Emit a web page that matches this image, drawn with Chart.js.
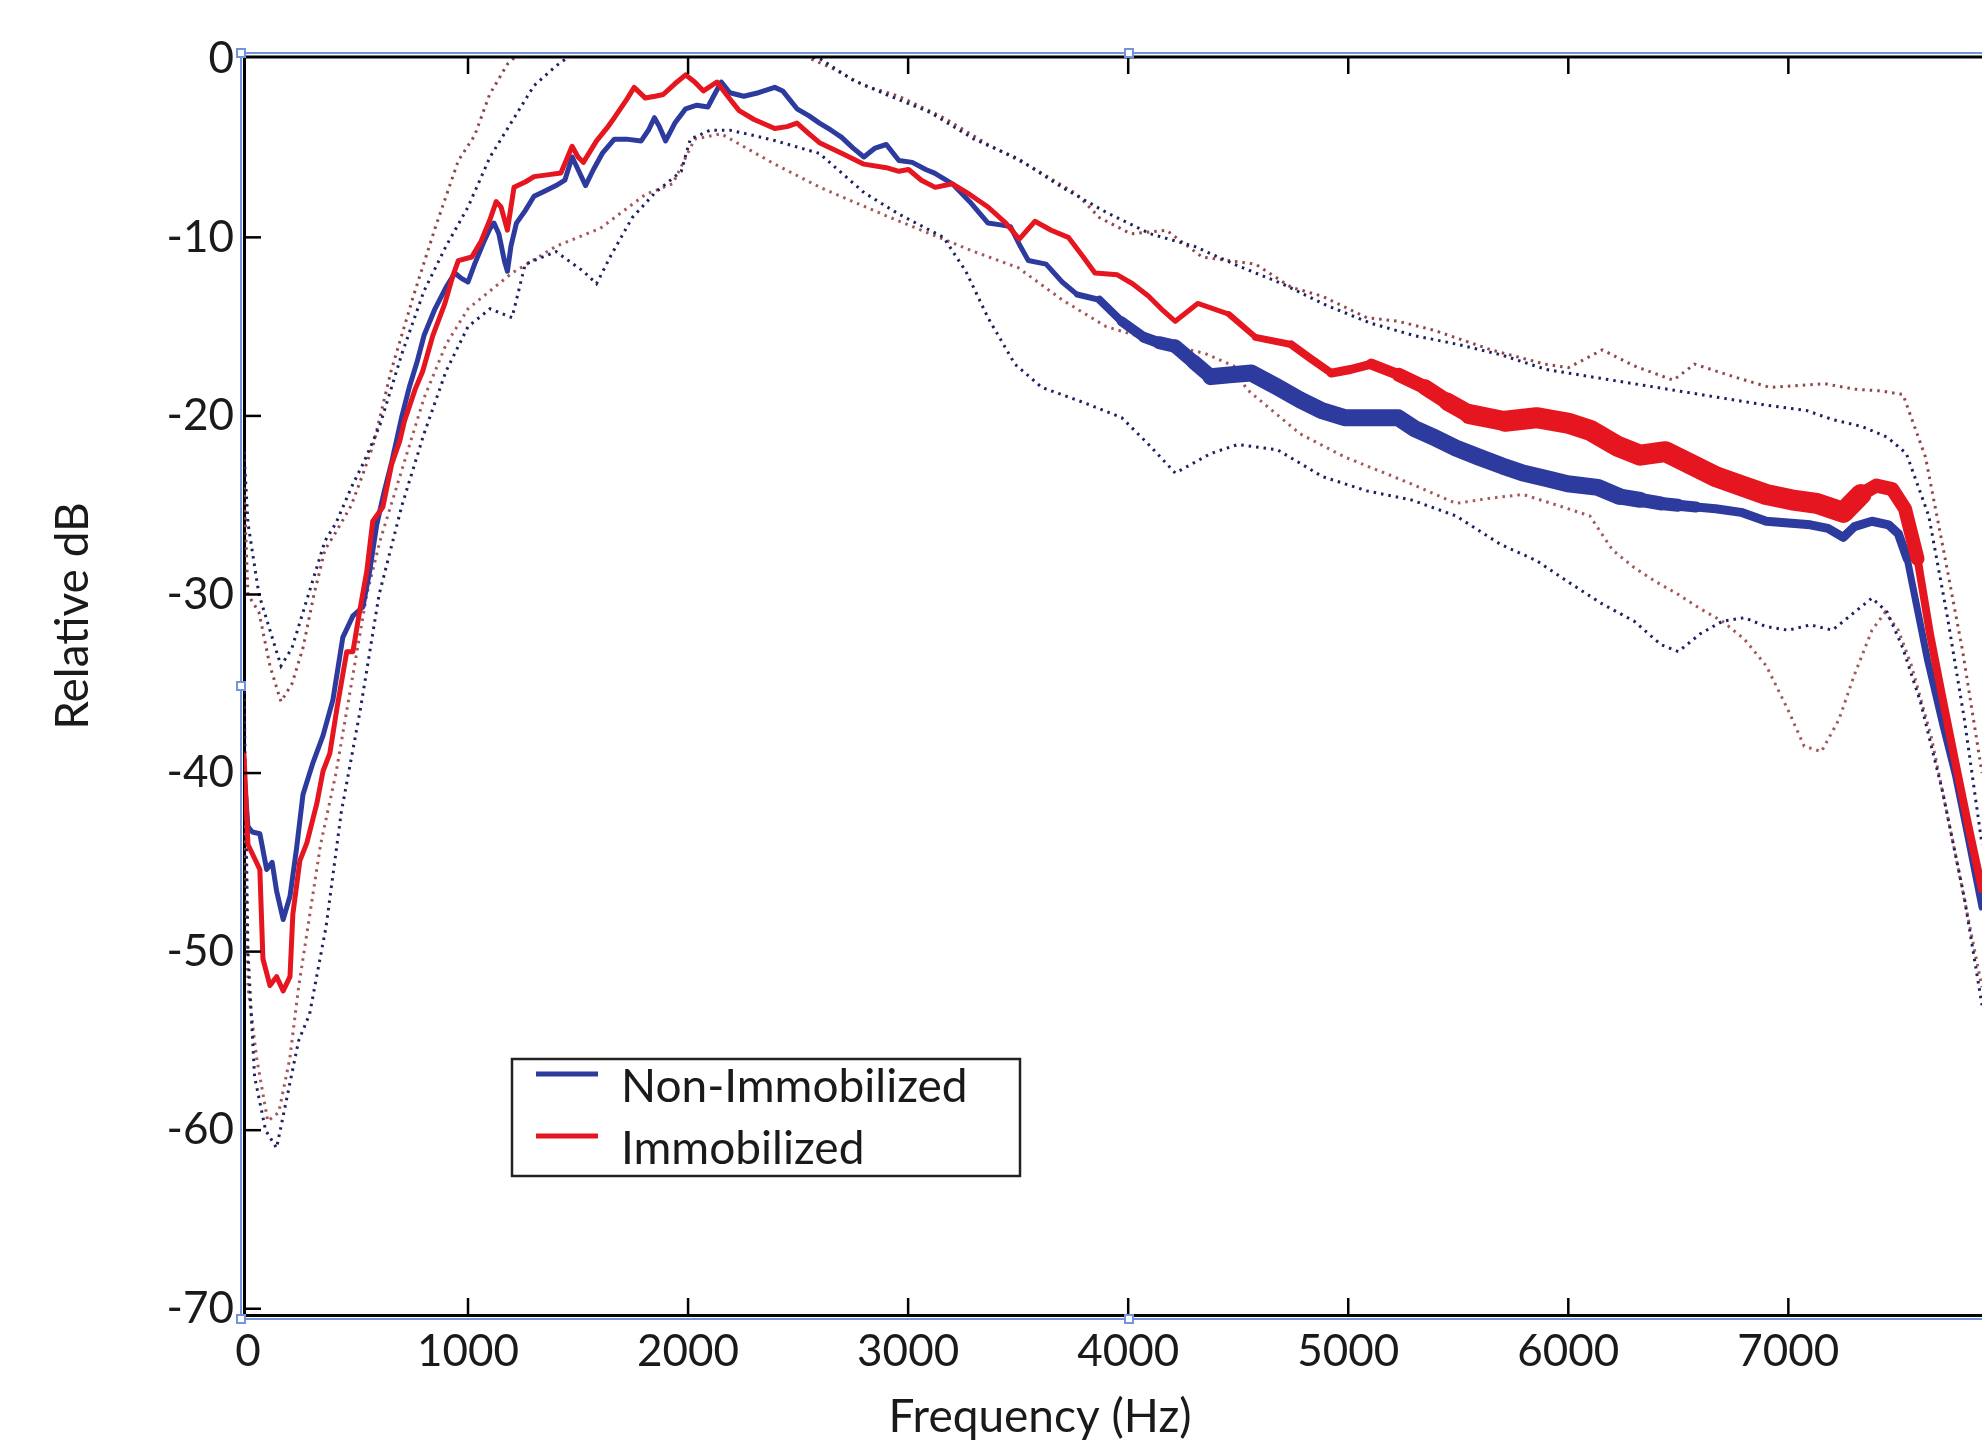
<!DOCTYPE html>
<html>
<head>
<meta charset="utf-8">
<title>Relative dB vs Frequency</title>
<script src="https://cdn.jsdelivr.net/npm/chart.js@4.4.1/dist/chart.umd.min.js"></script>
<style>
  html, body { margin: 0; padding: 0; background: #fff; overflow: hidden; }
  #chart { display: block; }
</style>
</head>
<body>
<canvas id="chart" width="1982" height="1440"></canvas>
<script>
const xTicks = [0, 1000, 2000, 3000, 4000, 5000, 6000, 7000];
const yTicks = [0, -10, -20, -30, -40, -50, -60, -70];

// Non-Immobilized mean
const blueFreq = [-18, 0, 20, 54, 85, 110, 130, 160, 191, 221, 250, 296, 341, 386, 431, 477, 522, 553, 585, 620, 653, 700, 733, 768, 800, 850, 900, 940, 970, 1000, 1030, 1070, 1100, 1118, 1140, 1165, 1179, 1195, 1220, 1260, 1300, 1350, 1400, 1440, 1473, 1500, 1534, 1570, 1610, 1665, 1720, 1787, 1820, 1847, 1870, 1898, 1940, 1989, 2040, 2090, 2120, 2151, 2190, 2253, 2320, 2394, 2430, 2495, 2550, 2597, 2650, 2698, 2750, 2799, 2850, 2901, 2958, 3019, 3080, 3120, 3201, 3280, 3363, 3420, 3465, 3510, 3546, 3627, 3700, 3768, 3870, 3970, 4072, 4140, 4214, 4300, 4376, 4460, 4559, 4680, 4781, 4880, 4984, 5100, 5227, 5300, 5389, 5490, 5592, 5700, 5794, 5900, 5997, 6134, 6230, 6327, 6420, 6499, 6580, 6670, 6785, 6900, 7000, 7100, 7180, 7250, 7300, 7380, 7456, 7500, 7540, 7576, 7633, 7702, 7759, 7817, 7880];
const blueDb = [-40, -43, -43.3, -43.4, -45.4, -45, -46.6, -48.2, -46.9, -44.2, -41.2, -39.4, -37.9, -35.9, -32.4, -31.2, -30.7, -28.7, -26.1, -24.2, -22.6, -20.0, -18.4, -17.0, -15.5, -14.0, -12.8, -12.0, -12.3, -12.5, -11.5, -10.3, -9.5, -9.2, -9.8, -11.3, -11.9, -10.5, -9.2, -8.5, -7.7, -7.4, -7.1, -6.8, -5.5, -6.2, -7.1, -6.2, -5.3, -4.5, -4.5, -4.6, -4.0, -3.3, -3.8, -4.6, -3.6, -2.8, -2.6, -2.7, -2.0, -1.3, -1.9, -2.1, -1.9, -1.6, -1.8, -2.8, -3.2, -3.6, -4.0, -4.4, -5.0, -5.5, -5.0, -4.8, -5.7, -5.8, -6.2, -6.4, -7.0, -8.0, -9.2, -9.3, -9.4, -10.5, -11.3, -11.5, -12.5, -13.2, -13.5, -14.7, -15.6, -15.9, -16.1, -17.0, -17.8, -17.7, -17.6, -18.4, -19.1, -19.7, -20.1, -20.1, -20.1, -20.7, -21.2, -21.8, -22.3, -22.8, -23.2, -23.5, -23.8, -24.0, -24.5, -24.7, -24.9, -25.0, -25.1, -25.2, -25.4, -25.9, -26.0, -26.1, -26.3, -26.8, -26.2, -25.9, -26.1, -26.6, -28.0, -30.2, -33.7, -37.3, -40.1, -43.6, -47.5];

// Immobilized mean
const redFreq = [-18, 0, 54, 68, 100, 130, 160, 191, 204, 236, 268, 313, 341, 372, 404, 449, 477, 508, 540, 567, 613, 653, 690, 711, 760, 794, 840, 895, 930, 956, 1017, 1060, 1100, 1128, 1150, 1179, 1209, 1260, 1300, 1360, 1422, 1473, 1500, 1524, 1584, 1630, 1665, 1720, 1755, 1806, 1850, 1887, 1940, 1989, 2030, 2070, 2131, 2180, 2232, 2300, 2394, 2450, 2495, 2550, 2597, 2700, 2799, 2901, 2958, 3002, 3060, 3123, 3201, 3280, 3363, 3444, 3505, 3576, 3650, 3728, 3790, 3849, 3951, 4020, 4093, 4150, 4214, 4316, 4457, 4579, 4741, 4830, 4923, 5010, 5105, 5230, 5349, 5450, 5551, 5713, 5855, 5997, 6098, 6224, 6327, 6441, 6556, 6670, 6785, 6900, 7014, 7129, 7250, 7330, 7400, 7472, 7530, 7587, 7645, 7702, 7759, 7817, 7880];
const redDb = [-39, -44, -45.4, -50.4, -51.9, -51.4, -52.2, -51.4, -47.9, -44.9, -43.9, -41.7, -39.9, -38.9, -36.4, -33.2, -33.2, -30.9, -28.7, -25.9, -25.1, -22.7, -21.4, -20.3, -18.5, -17.5, -15.5, -13.7, -12.2, -11.3, -11.1, -10.2, -9.0, -8.0, -8.3, -9.6, -7.2, -6.9, -6.6, -6.5, -6.4, -4.9, -5.5, -5.8, -4.6, -3.9, -3.3, -2.3, -1.6, -2.2, -2.1, -2.0, -1.4, -0.9, -1.3, -1.8, -1.3, -2.1, -2.9, -3.4, -3.9, -3.8, -3.6, -4.2, -4.7, -5.3, -5.9, -6.1, -6.3, -6.2, -6.8, -7.2, -7.0, -7.6, -8.3, -9.2, -10.1, -9.1, -9.6, -10.0, -11.0, -12.0, -12.1, -12.6, -13.3, -14.0, -14.7, -13.7, -14.3, -15.6, -16.0, -16.8, -17.6, -17.4, -17.1, -17.7, -18.4, -19.2, -19.9, -20.3, -20.1, -20.4, -20.8, -21.7, -22.2, -22.0, -22.7, -23.4, -23.9, -24.4, -24.7, -24.9, -25.4, -24.4, -23.9, -24.1, -25.2, -28.0, -32.3, -35.9, -39.4, -42.9, -46.5];

// dotted bounds, Non-Immobilized
const blueUpFreq = [-18, 0, 50, 100, 150, 200, 250, 300, 350, 400, 470, 530, 600, 700, 800, 900, 1000, 1100, 1200, 1300, 1400, 1500, 2300, 2600, 2750, 2900, 3100, 3300, 3500, 3700, 3900, 4100, 4300, 4500, 4700, 4900, 5100, 5300, 5500, 5700, 5900, 6100, 6300, 6500, 6700, 6900, 7083, 7200, 7337, 7450, 7536, 7638, 7722, 7800, 7880];
const blueUpDb = [-22, -26, -30, -32, -34, -33, -31, -29, -27, -26, -24, -22.5, -20.5, -16.5, -13, -10.5, -8.3, -5.5, -3.5, -1.5, -0.4, 0.5, 0.8, 0, -1.2, -2.0, -3.0, -4.5, -5.6, -7.2, -8.6, -9.8, -10.5, -11.6, -12.6, -13.8, -14.8, -15.5, -16, -16.6, -17.4, -17.8, -18.2, -18.6, -19.0, -19.4, -19.7, -20.2, -20.6, -21.2, -22.1, -25.6, -31.2, -37, -44];
const blueLowFreq = [-18, 0, 30, 80, 130, 180, 230, 280, 355, 424, 510, 596, 700, 800, 900, 1000, 1100, 1200, 1260, 1400, 1524, 1584, 1650, 1746, 1850, 1969, 2010, 2100, 2191, 2300, 2400, 2597, 2800, 2958, 3161, 3262, 3363, 3485, 3607, 3809, 3971, 4093, 4214, 4376, 4498, 4679, 4883, 5085, 5286, 5490, 5693, 5855, 6000, 6150, 6300, 6420, 6500, 6600, 6700, 6800, 6900, 7000, 7100, 7200, 7300, 7380, 7450, 7520, 7600, 7700, 7800, 7880];
const blueLowDb = [-35, -50, -57, -60, -61, -58, -55, -53.5, -48.6, -42.2, -36.5, -30, -25, -21, -17.5, -15, -14, -14.5, -11.5, -10.8, -11.9, -12.6, -11, -8.9, -7.5, -6.3, -4.5, -4, -4, -4.3, -4.6, -5.3, -7.5, -8.7, -10, -11.9, -14.5, -17.1, -18.4, -19.3, -20.1, -21.6, -23.2, -22.1, -21.6, -21.9, -23.4, -24.2, -24.7, -25.6, -27.2, -28.1, -29.3, -30.5, -31.5, -32.8, -33.2, -32.2, -31.5, -31.3, -31.8, -32.0, -31.7, -32.0, -31, -30.2, -31, -33, -36, -41, -47, -53];

// dotted bounds, Immobilized
const redUpFreq = [-18, 0, 50, 100, 150, 200, 250, 300, 350, 400, 470, 530, 572, 650, 754, 850, 956, 1030, 1098, 1179, 1250, 1400, 1800, 2200, 2500, 2650, 2800, 2958, 3161, 3363, 3566, 3768, 3870, 4012, 4174, 4336, 4579, 4741, 4883, 5085, 5227, 5389, 5649, 5894, 6000, 6155, 6300, 6477, 6574, 6750, 6915, 7167, 7300, 7420, 7521, 7623, 7705, 7791, 7880];
const redUpDb = [-24, -30, -31, -34, -36, -35, -33, -30, -27.5, -26.5, -25, -23, -21.5, -17.5, -13.2, -9.5, -5.7, -4.3, -2.0, -0.3, 0.5, 1, 1.5, 1, 0.3, -0.5, -1.5, -2.1, -3.3, -4.8, -6.1, -7.6, -8.9, -9.8, -9.6, -11.1, -11.5, -12.8, -13.3, -14.5, -14.7, -15.2, -16.3, -17.1, -17.3, -16.3, -17.2, -18.0, -17.1, -17.8, -18.4, -18.2, -18.5, -18.6, -18.8, -22.3, -27.5, -33.1, -40];
const redLowFreq = [-18, 0, 40, 90, 140, 190, 230, 280, 330, 400, 470, 540, 600, 700, 800, 900, 1000, 1100, 1200, 1400, 1600, 1806, 1930, 2030, 2150, 2394, 2600, 2901, 3100, 3300, 3500, 3700, 3900, 4174, 4350, 4480, 4538, 4781, 4984, 5286, 5490, 5650, 5794, 5950, 6098, 6200, 6300, 6400, 6500, 6600, 6700, 6800, 6900, 7000, 7072, 7150, 7230, 7300, 7380, 7440, 7500, 7560, 7650, 7750, 7880];
const redLowDb = [-40, -52, -56, -59.5, -59, -56, -52, -48, -44, -40, -35, -30, -27, -23, -19, -16, -14, -13, -12, -10.5, -9.5, -7.6, -7, -4.5, -4.2, -5.9, -7.2, -8.8, -9.8, -10.8, -11.7, -13.5, -15, -16, -16.5, -17.2, -18.5, -21, -22.3, -23.8, -24.9, -24.6, -24.4, -25, -25.6, -27.5, -28.5, -29.3, -30, -30.8, -31.5, -32.5, -34, -36.5, -38.5, -38.8, -37, -34.5, -32, -31, -32, -34, -38, -44, -52];

const BLUE = '#2d3a9e';
const RED = '#e5161f';

const pts = (xs, ys) => xs.map((x, i) => ({ x: x, y: ys[i] }));

// the mean curves get heavier where the original traces pile up
function blueWidth(hz) {
  if (hz < 3700) return 5;
  if (hz < 4400) return Math.round(5 + (hz - 3700) / 700 * 12);
  if (hz < 6200) return 17;
  if (hz < 6600) return Math.round(17 - (hz - 6200) / 400 * 8);
  if (hz < 7520) return 9;
  return 7;
}
function redWidth(hz) {
  if (hz < 4300) return 5;
  if (hz < 5000) return Math.round(5 + (hz - 4300) / 700 * 4);
  if (hz < 5600) return Math.round(9 + (hz - 5000) / 600 * 12);
  if (hz < 7320) return 21;
  if (hz < 7540) return 14;
  return 8;
}

function dotted(label, xs, ys, color, order) {
  return {
    label: label,
    data: pts(xs, ys),
    borderColor: color,
    borderWidth: 3,
    borderDash: [2.5, 5],
    order: order,
    inLegend: false
  };
}

const framePlugin = {
  id: 'frame',
  afterDraw(chart) {
    const { ctx, chartArea: a, scales: { x, y } } = chart;
    ctx.save();

    // top axis line and inward ticks
    ctx.strokeStyle = '#000';
    ctx.lineWidth = 3;
    ctx.beginPath();
    ctx.moveTo(a.left, a.top);
    ctx.lineTo(a.right, a.top);
    ctx.stroke();
    ctx.lineWidth = 2.5;
    xTicks.forEach(v => {
      const px = x.getPixelForValue(v);
      if (px - a.left < 12) return;
      ctx.beginPath();
      ctx.moveTo(px, a.bottom);
      ctx.lineTo(px, a.bottom - 17);
      ctx.moveTo(px, a.top);
      ctx.lineTo(px, a.top + 17);
      ctx.stroke();
    });
    yTicks.forEach(v => {
      const py = y.getPixelForValue(v);
      if (py - a.top < 6) return;
      ctx.beginPath();
      ctx.moveTo(a.left, py);
      ctx.lineTo(a.left + 17, py);
      ctx.stroke();
    });

    // selection frame left over from the editor
    ctx.strokeStyle = '#7393da';
    ctx.lineWidth = 2;
    const fl = a.left - 3, ft = a.top - 4, fb = a.bottom + 4;
    ctx.beginPath();
    ctx.moveTo(a.right, ft);
    ctx.lineTo(fl, ft);
    ctx.lineTo(fl, fb);
    ctx.lineTo(a.right, fb);
    ctx.stroke();
    const hx = a.left + 885, hy = (a.top + a.bottom) / 2;
    [[fl, ft], [hx, ft], [fl, hy], [fl, fb], [hx, fb]].forEach(([cx, cy]) => {
      ctx.fillStyle = '#fff';
      ctx.fillRect(cx - 4, cy - 4, 8, 8);
      ctx.strokeRect(cx - 4, cy - 4, 8, 8);
    });

    // legend box
    const lx = a.left + 268, ly = a.top + 1002, lw = 508, lh = 117;
    ctx.fillStyle = '#fff';
    ctx.fillRect(lx, ly, lw, lh);
    ctx.strokeStyle = '#222';
    ctx.lineWidth = 2.5;
    ctx.strokeRect(lx, ly, lw, lh);
    const items = chart.data.datasets.filter(d => d.inLegend);
    ctx.font = '46px Lato, "Open Sans", sans-serif';
    ctx.textBaseline = 'alphabetic';
    ctx.textAlign = 'left';
    items.forEach((d, i) => {
      const rowY = ly + 15 + i * 62;
      ctx.strokeStyle = d.borderColor;
      ctx.lineWidth = 5;
      ctx.beginPath();
      ctx.moveTo(lx + 24, rowY);
      ctx.lineTo(lx + 86, rowY);
      ctx.stroke();
      ctx.fillStyle = '#1a1a1a';
      ctx.fillText(d.label, lx + 109, rowY + 28);
    });

    // axis titles
    ctx.fillStyle = '#1a1a1a';
    ctx.font = '46px Lato, "Open Sans", sans-serif';
    ctx.textAlign = 'center';
    ctx.fillText('Frequency (Hz)', 1040, 1432);
    ctx.translate(88, 616);
    ctx.rotate(-Math.PI / 2);
    ctx.fillText('Relative dB', 0, 0);
    ctx.restore();
  }
};

Chart.defaults.font.family = 'Lato, "Open Sans", sans-serif';
Chart.defaults.color = '#1a1a1a';

new Chart(document.getElementById('chart'), {
  type: 'line',
  data: {
    datasets: [
      {
        label: 'Non-Immobilized',
        data: pts(blueFreq, blueDb),
        borderColor: BLUE,
        borderWidth: 5,
        borderJoinStyle: 'round',
        borderCapStyle: 'round',
        segment: { borderWidth: c => blueWidth(c.p0.parsed.x) },
        order: 1,
        inLegend: true
      },
      {
        label: 'Immobilized',
        data: pts(redFreq, redDb),
        borderColor: RED,
        borderWidth: 5,
        borderJoinStyle: 'round',
        borderCapStyle: 'round',
        segment: { borderWidth: c => redWidth(c.p0.parsed.x) },
        order: 0,
        inLegend: true
      },
      dotted('Non-Immobilized upper', blueUpFreq, blueUpDb, '#1c2160', 3),
      dotted('Non-Immobilized lower', blueLowFreq, blueLowDb, '#1c2160', 2),
      dotted('Immobilized upper', redUpFreq, redUpDb, '#93464a', 4),
      dotted('Immobilized lower', redLowFreq, redLowDb, '#a5575a', 5)
    ]
  },
  options: {
    responsive: false,
    animation: false,
    layout: { padding: { top: 57, right: 0, bottom: 0, left: 0 } },
    elements: { point: { radius: 0 }, line: { tension: 0 } },
    plugins: { legend: { display: false }, tooltip: { enabled: false } },
    scales: {
      x: {
        type: 'linear',
        min: -18,
        max: 7880,
        afterBuildTicks: s => { s.ticks = xTicks.map(v => ({ value: v })); },
        afterFit: s => { s.height = 125; },
        grid: { display: false, drawTicks: false },
        border: { display: true, color: '#000', width: 3 },
        ticks: { font: { size: 44 }, padding: 10, maxRotation: 0, autoSkip: false, callback: v => String(v) }
      },
      y: {
        type: 'linear',
        min: -70.35,
        max: 0.1,
        afterBuildTicks: s => { s.ticks = yTicks.map(v => ({ value: v })); },
        afterFit: s => { s.width = 244; },
        grid: { display: false, drawTicks: false },
        border: { display: true, color: '#000', width: 3 },
        ticks: { font: { size: 44 }, padding: 10, autoSkip: false, callback: v => String(v) }
      }
    }
  },
  plugins: [framePlugin]
});
</script>
</body>
</html>
